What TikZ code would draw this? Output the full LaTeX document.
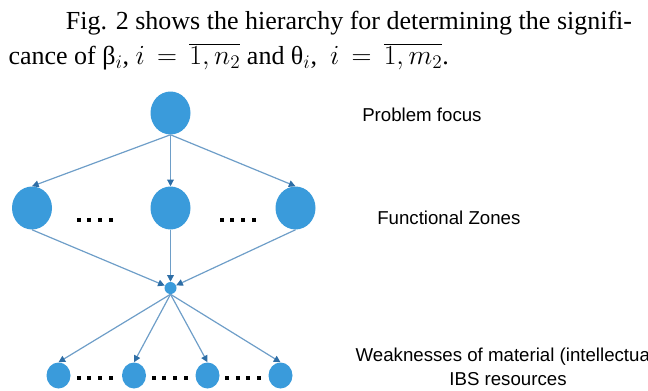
\documentclass[tikz,border=0pt]{standalone}
\usepackage{fontspec}
\setmainfont{Liberation Serif}
\setsansfont{Liberation Sans}
\usetikzlibrary{shapes.geometric,arrows.meta}
\definecolor{zoneblue}{HTML}{3A9BDB}
\definecolor{linkblue}{HTML}{6E9EC8}
\definecolor{tipblue}{HTML}{2E6EA6}
\tikzset{
  bigzone/.style={ellipse,fill=zoneblue,minimum width=30pt,minimum height=32.25pt,inner sep=0pt},
  smallzone/.style={ellipse,fill=zoneblue,minimum width=18pt,minimum height=19.5pt,inner sep=0pt},
  hubzone/.style={circle,fill=zoneblue,minimum size=9pt,inner sep=0pt},
  link/.style={linkblue,line width=0.9pt,-{Triangle[length=5pt,width=5pt,color=tipblue]}},
  captext/.style={inner sep=0pt,font=\fontsize{19.5}{23}\selectfont},
  levelname/.style={inner sep=0pt,font=\sffamily\fontsize{14}{18.5}\selectfont}
}
\newcommand\dotrow[2]{\foreach \k in {0,...,3} \fill (#1+\k*10.7,#2) +(-2,-2) rectangle +(2,2);}
\begin{document}
\begin{tikzpicture}[x=0.75pt,y=0.75pt]
\useasboundingbox (0,0) rectangle (648,390);
% text above the figure
\node[captext,anchor=base west] (cap1) at (65.7,360.7) {Fig. 2 shows the hierarchy for determining the signifi-};
\node[captext,anchor=base west] (cap2) at (8.3,325.7) {cance of β$_i$, $i\,=\,\overline{1,n_2}$ and θ$_i$, \ $i\,=\,\overline{1,m_2}$.};
% hierarchy levels
\node[bigzone] (focus) at (170.5,277) {};
\node[bigzone] (zoneL) at (32,182) {};
\node[bigzone] (zoneM) at (170.5,182) {};
\node[bigzone] (zoneR) at (295.5,182) {};
\node[hubzone] (hub) at (170.5,102) {};
\node[smallzone] (weak1) at (58.5,14.5) {};
\node[smallzone] (weak2) at (134,14.5) {};
\node[smallzone] (weak3) at (207.5,14.5) {};
\node[smallzone] (weak4) at (280.5,14.5) {};
% links
\draw[link] (focus.south) -- (zoneL.north);
\draw[link] (focus.south) -- (zoneM.north);
\draw[link] (focus.south) -- (zoneR.north);
\draw[link] (zoneL.south) -- (hub);
\draw[link] (zoneM.south) -- (hub);
\draw[link] (zoneR.south) -- (hub);
\draw[link] (hub.south) -- (weak1.north);
\draw[link] (hub.south) -- (weak2.north);
\draw[link] (hub.south) -- (weak3.north);
\draw[link] (hub.south) -- (weak4.north);
% dots
\dotrow{78.5}{170}
\dotrow{221.5}{170}
\dotrow{78.5}{12.3}
\dotrow{153.5}{12.3}
\dotrow{227}{12.3}
% level names
\node[levelname,anchor=base west] (focusname) at (362,268.3) {Problem focus};
\node[levelname,anchor=base west] (zonename) at (377,166) {Functional Zones};
\node[levelname,anchor=base,align=center] (weakname) at (508,4.3) {Weaknesses of material (intellectual)\\IBS resources};
\end{tikzpicture}
\end{document}
